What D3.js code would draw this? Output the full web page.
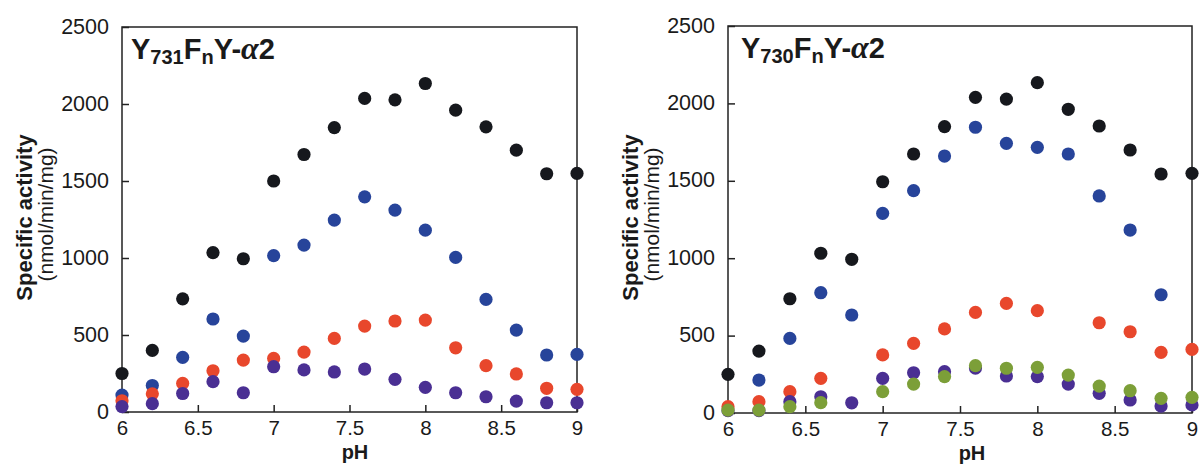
<!DOCTYPE html>
<html>
<head>
<meta charset="utf-8">
<script src="https://cdn.jsdelivr.net/npm/d3@7"></script>
<style>
  html, body { margin: 0; padding: 0; background: #fff; }
  svg { display: block; }
  text { font-family: "Liberation Sans", Arial, Helvetica, sans-serif; fill: #1a1a1a; }
</style>
</head>
<body>
<svg id="chart" width="1202" height="465"></svg>
<script>
// ---------- data ----------
const pH = [6.0, 6.2, 6.4, 6.6, 6.8, 7.0, 7.2, 7.4, 7.6, 7.8, 8.0, 8.2, 8.4, 8.6, 8.8, 9.0];

// Left panel: Y731FnY-α2
const leftBlack  = [250, 400, 735, 1035, 995, 1500, 1672, 1847, 2036, 2027, 2133, 1960, 1852, 1700, 1547, 1549];
const leftBlue   = [110, 172, 355, 604, 493, 1015, 1084, 1246, 1397, 1311, 1181, 1004, 731, 532, 370, 374];
const leftRed    = [73, 118, 186, 268, 337, 348, 389, 478, 558, 591, 597, 417, 301, 247, 154, 147];
const leftPurple = [35, 54, 120, 197, 125, 294, 273, 260, 279, 212, 160, 125, 99, 71, 60, 60];

// Right panel: Y730FnY-α2
const rightBlack  = [250, 400, 738, 1032, 993, 1494, 1673, 1850, 2039, 2028, 2134, 1962, 1854, 1699, 1544, 1548];
const rightBlue   = [null, 213, 482, 777, 633, 1290, 1436, 1660, 1846, 1742, 1716, 1673, 1402, 1182, 764, null];
const rightRed    = [41, 73, 138, 224, null, 375, 450, 543, 650, 708, 661, null, 583, 525, 392, 411];
const rightPurple = [15, 15, 73, 105, 66, 224, 260, 267, 290, 239, 235, 187, 127, 84, 45, 52];
const rightGreen  = [19, 19, 41, 67, null, 138, 187, 235, 306, 289, 295, 245, 174, 144, 95, 101];

const yTicks = [0, 500, 1000, 1500, 2000, 2500];
const xTicks = [6, 6.5, 7, 7.5, 8, 8.5, 9];
const yTickLabels = ["0", "500", "1000", "1500", "2000", "2500"];
const xTickLabels = ["6", "6.5", "7", "7.5", "8", "8.5", "9"];

const xTitle = "pH";
const yTitle1 = "Specific activity";
const yTitle2 = "(nmol/min/mg)";

// ---------- styles ----------
const colors = {
  black: "#16181d",
  blue: "#27449a",
  red: "#e8472c",
  purple: "#4a2f93",
  green: "#7c9f38"
};

const panels = [
  {
    left: 122, right: 577, top: 27, bottom: 412,
    titleSub: "731", titleX: 131,
    pHx: 355,
    series: [
      { vals: leftBlack, color: colors.black },
      { vals: leftBlue, color: colors.blue },
      { vals: leftRed, color: colors.red },
      { vals: leftPurple, color: colors.purple }
    ]
  },
  {
    left: 728, right: 1192, top: 26, bottom: 413,
    titleSub: "730", titleX: 741,
    pHx: 972,
    series: [
      { vals: rightBlack, color: colors.black },
      { vals: rightBlue, color: colors.blue },
      { vals: rightRed, color: colors.red },
      { vals: rightPurple, color: colors.purple },
      { vals: rightGreen, color: colors.green }
    ]
  }
];

const svg = d3.select("#chart");

panels.forEach(p => {
  const x = d3.scaleLinear().domain([6, 9]).range([p.left, p.right]);
  const y = d3.scaleLinear().domain([0, 2500]).range([p.bottom, p.top]);
  const g = svg.append("g");

  // frame
  g.append("rect")
    .attr("x", p.left).attr("y", p.top)
    .attr("width", p.right - p.left).attr("height", p.bottom - p.top)
    .attr("fill", "none").attr("stroke", "#222").attr("stroke-width", 1.5);

  // y axis (inward ticks)
  const yAxis = d3.axisLeft(y).tickValues(yTicks)
    .tickFormat((d, i) => yTickLabels[i])
    .tickSizeInner(-7).tickSizeOuter(0).tickPadding(13);
  const ya = g.append("g").attr("transform", `translate(${p.left},0)`).call(yAxis);
  ya.select(".domain").remove();
  ya.selectAll("line").attr("stroke", "#222").attr("stroke-width", 1.5);
  ya.selectAll("text").attr("font-size", 21.5).attr("fill", "#1a1a1a")
    .attr("dy", "0.28em").style("font-family", "'Liberation Sans', Arial, sans-serif");

  // x axis (inward ticks)
  const xAxis = d3.axisBottom(x).tickValues(xTicks)
    .tickFormat((d, i) => xTickLabels[i])
    .tickSizeInner(-7).tickSizeOuter(0).tickPadding(8);
  const xa = g.append("g").attr("transform", `translate(0,${p.bottom})`).call(xAxis);
  xa.select(".domain").remove();
  xa.selectAll("line").attr("stroke", "#222").attr("stroke-width", 1.5);
  xa.selectAll("text").attr("font-size", 20.5).attr("fill", "#1a1a1a")
    .attr("dy", "0.71em").style("font-family", "'Liberation Sans', Arial, sans-serif");

  // x title
  g.append("text")
    .attr("x", p.pHx).attr("y", p.bottom + 47)
    .attr("text-anchor", "middle")
    .attr("font-size", 20).attr("font-weight", "bold")
    .text(xTitle);

  // y titles
  const yc = (p.top + p.bottom) / 2 - 2;
  g.append("text")
    .attr("transform", `translate(${p.left - 90},${yc}) rotate(-90)`)
    .attr("text-anchor", "middle")
    .attr("font-size", 22).attr("font-weight", "bold")
    .text(yTitle1);
  g.append("text")
    .attr("transform", `translate(${p.left - 69},${yc - 3}) rotate(-90)`)
    .attr("text-anchor", "middle")
    .attr("font-size", 21)
    .text(yTitle2);

  // panel title
  const t = g.append("text")
    .attr("x", p.titleX).attr("y", p.top + 32)
    .attr("font-weight", "bold").attr("font-size", 29);
  t.append("tspan").text("Y");
  t.append("tspan").attr("font-size", 20).attr("dy", 5).text(p.titleSub);
  t.append("tspan").attr("dy", -5).text("F");
  t.append("tspan").attr("font-size", 20).attr("dy", 5).text("n");
  t.append("tspan").attr("dy", -5).text("Y-");
  t.append("tspan").style("font-family", "'Liberation Serif', 'Times New Roman', serif")
    .attr("font-style", "italic").attr("font-size", 32).text("α");
  t.append("tspan").text("2");

  // dots
  p.series.forEach(s => {
    const pts = pH.map((v, i) => ({ ph: v, val: s.vals[i] })).filter(d => d.val !== null);
    g.append("g").selectAll("circle").data(pts).join("circle")
      .attr("cx", d => x(d.ph))
      .attr("cy", d => y(d.val))
      .attr("r", 6.6)
      .attr("fill", s.color);
  });
});
</script>
</body>
</html>
